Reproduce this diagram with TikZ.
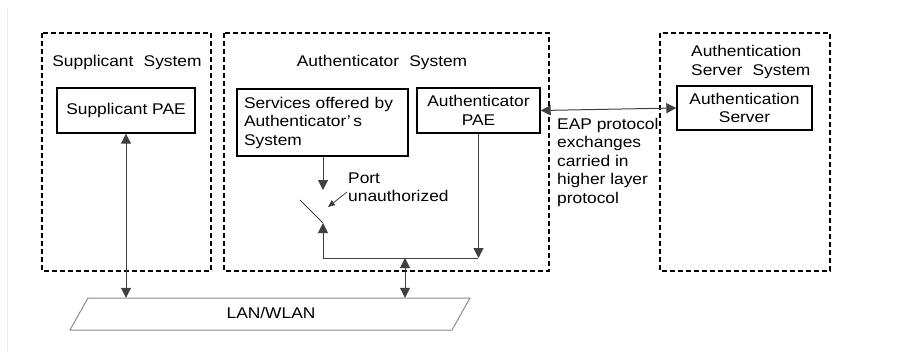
\documentclass[tikz,border=0pt]{standalone}
\usepackage{fontspec}
\setmainfont[FakeStretch=1.12]{Liberation Sans}
\usetikzlibrary{arrows.meta,calc}

\begin{document}
\begin{tikzpicture}[x=1pt,y=-1pt,
  every node/.style={font=\fontsize{15.5}{18.5}\selectfont, inner sep=0pt},
  sysbox/.style={draw=black, line width=1.4pt, dash pattern=on 5pt off 3pt},
  entity/.style={draw=black, line width=1.4pt, align=center},
  link/.style={draw=black!75, line width=1pt},
  tip/.style={-{Triangle[length=10pt,width=10pt]}},
  tips/.style={{Triangle[length=10pt,width=10pt]}-{Triangle[length=10pt,width=10pt]}},
  lanedge/.style={draw=black!45, line width=1pt}]
\useasboundingbox (0,0) rectangle (909,359);
\draw[black!7, line width=1pt] (7,8) -- (7,352);

% system boundaries
\draw[sysbox] (42,33) rectangle (211,271);
\draw[sysbox] (224,33) rectangle (549,271);
\draw[sysbox] (660,33) rectangle (830,271);

% system titles
\node (supsys) at (127,62) {Supplicant\hspace{0.35em} System};
\node (authsys) at (382,62) {Authenticator\hspace{0.35em} System};
\node[anchor=west, align=left] (srvsys) at (691,62) {Authentication\\Server\hspace{0.35em} System};

% entities
\node[entity, minimum width=138pt, minimum height=45pt] (suppae) at (126,110.5) {Supplicant PAE};
\node[entity, minimum width=171pt, minimum height=67pt, text width=157pt, align=left] (svc) at (322.5,122.5) {Services offered by\\Authenticator’\,s\\System};
\node[entity, minimum width=123pt, minimum height=45pt] (authpae) at (478.5,110.5) {Authenticator\\PAE};
\node[entity, minimum width=135pt, minimum height=44pt] (srv) at (744.5,108) {Authentication\\Server};

% LAN segment
\node[minimum width=400pt, minimum height=32pt] (lan) at (270,314) {};
\draw[lanedge] (88,298) -- (470,298) -- (452,330) -- (70,330) -- cycle;
\node at (271,313) {LAN/WLAN};

% EAP exchange
\draw[link, tips] (authpae.east) -- (srv.west);
\node[anchor=north west, align=left] (eap) at (557,118) {EAP protocol\\exchanges\\carried in\\higher layer\\protocol};

% supplicant to LAN
\draw[link, tips] (suppae.south) -- (suppae.south |- lan.north);

% controlled port and switch
\coordinate (swtop) at (300,200);
\coordinate (swbot) at (323,223);
\coordinate (swin) at (323,190);
\coordinate (bus) at (478,258);
\coordinate (tap) at (405,258);
\draw[link, tip] (svc.south -| swin) -- (swin);
\draw[link] (swtop) -- (swbot);
\draw[link, tip] (authpae.south) -- (authpae.south |- bus);
\draw[link, tip] (bus) -- (swbot |- bus) -- (swbot);
\draw[link, tips] (tap) -- (tap |- lan.north);

% port state label
\node[anchor=west, align=left] (portlbl) at (348,187) {Port\\unauthorized};
\coordinate (ptfrom) at (347,192);
\coordinate (ptto) at (328,207);
\draw[link, line width=0.8pt, -{Triangle[length=7pt,width=6pt]}] (ptfrom) -- (ptto);
\end{tikzpicture}
\end{document}
